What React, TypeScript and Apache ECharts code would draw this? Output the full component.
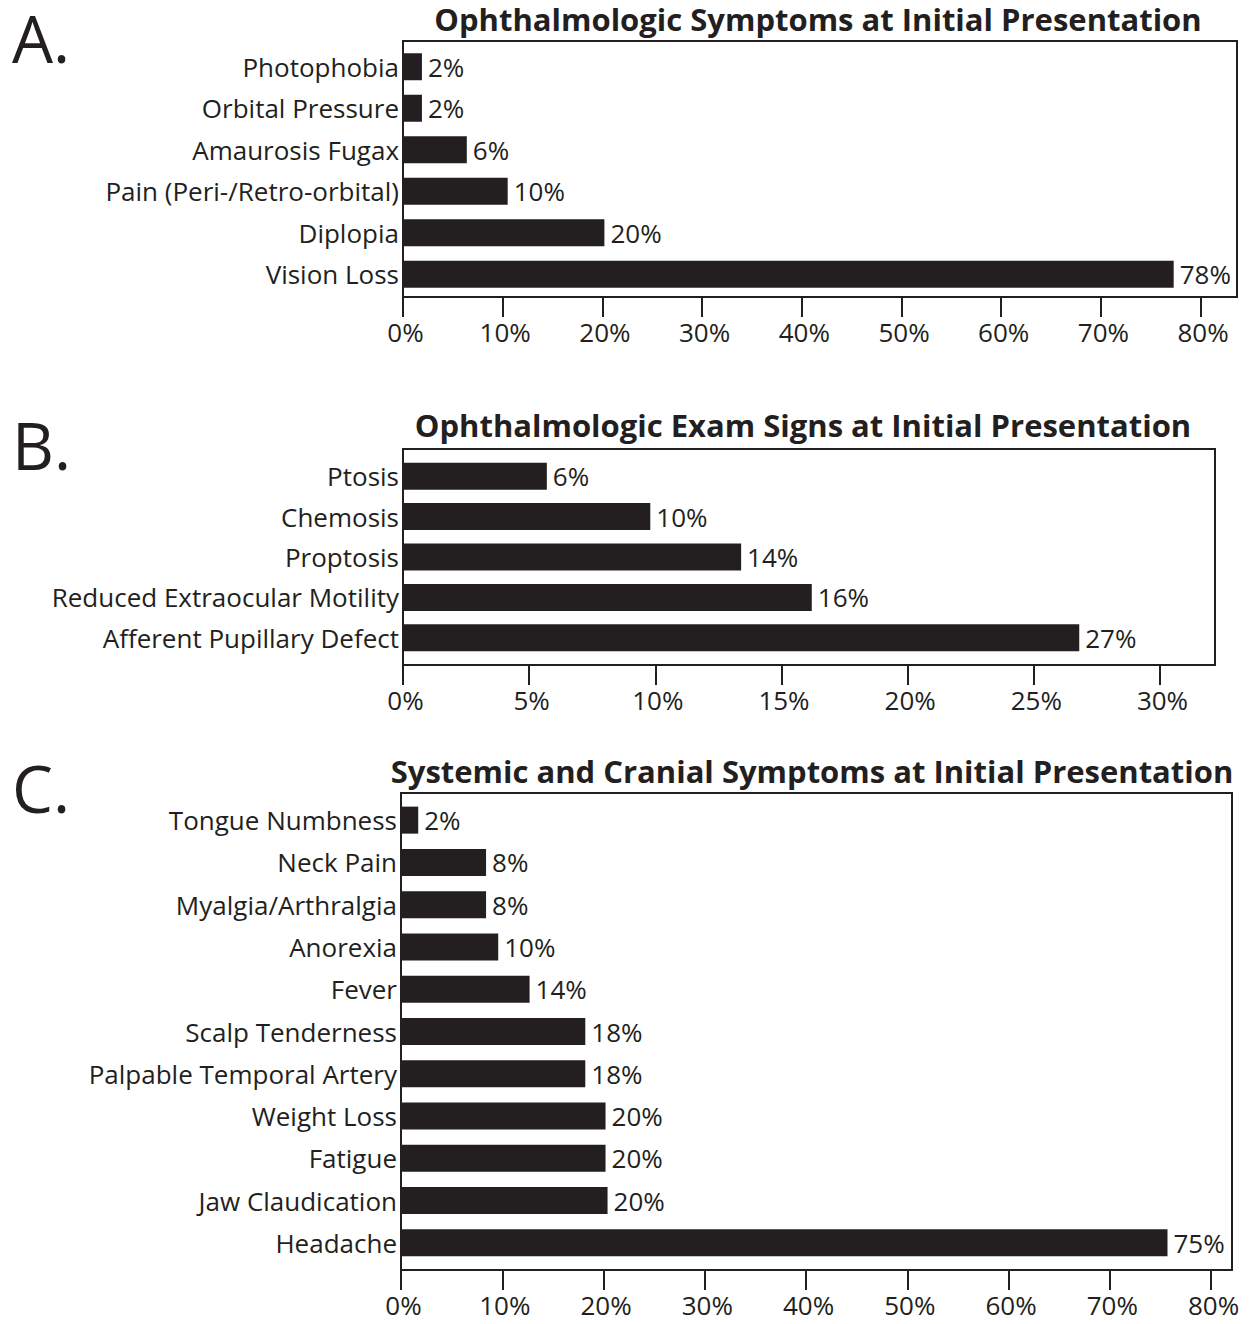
import React, { useEffect, useRef } from "react";
import * as echarts from "echarts";

const catsA = ["Photophobia", "Orbital Pressure", "Amaurosis Fugax", "Pain (Peri-/Retro-orbital)", "Diplopia", "Vision Loss"];
const valsA = [1.9, 1.9, 6.4, 10.5, 20.2, 77.3];
const labelsA = ["2%", "2%", "6%", "10%", "20%", "78%"];
const ticksA = [0, 10, 20, 30, 40, 50, 60, 70, 80];

const catsB = ["Ptosis", "Chemosis", "Proptosis", "Reduced Extraocular Motility", "Afferent Pupillary Defect"];
const valsB = [5.7, 9.8, 13.4, 16.2, 26.8];
const labelsB = ["6%", "10%", "14%", "16%", "27%"];
const ticksB = [0, 5, 10, 15, 20, 25, 30];

const catsC = ["Tongue Numbness", "Neck Pain", "Myalgia/Arthralgia", "Anorexia", "Fever", "Scalp Tenderness", "Palpable Temporal Artery", "Weight Loss", "Fatigue", "Jaw Claudication", "Headache"];
const valsC = [1.7, 8.4, 8.4, 9.6, 12.7, 18.2, 18.2, 20.2, 20.2, 20.4, 75.7];
const labelsC = ["2%", "8%", "8%", "10%", "14%", "18%", "18%", "20%", "20%", "20%", "75%"];
const ticksC = [0, 10, 20, 30, 40, 50, 60, 70, 80];

const INK = "#231f20";
const FONT = "'Open Sans', sans-serif";

const panels = [
  { letter: "A.", letterY: 38, title: "Ophthalmologic Symptoms at Initial Presentation", titleX: 818, titleY: 19,
    cats: catsA, vals: valsA, labels: labelsA, ticks: ticksA,
    box: { x: 403, y: 41, w: 834, h: 256 }, gridTop: 46, gridBottom: 295, max: 83.65 },
  { letter: "B.", letterY: 445, title: "Ophthalmologic Exam Signs at Initial Presentation", titleX: 803, titleY: 425,
    cats: catsB, vals: valsB, labels: labelsB, ticks: ticksB,
    box: { x: 403, y: 449, w: 812, h: 216 }, gridTop: 456, gridBottom: 658, max: 32.18 },
  { letter: "C.", letterY: 788, title: "Systemic and Cranial Symptoms at Initial Presentation", titleX: 812, titleY: 771,
    cats: catsC, vals: valsC, labels: labelsC, ticks: ticksC,
    box: { x: 401, y: 793, w: 831, h: 477 }, gridTop: 799, gridBottom: 1264, max: 82.07 },
];

export default function App() {
  const ref = useRef<HTMLDivElement>(null);
  useEffect(() => {
    if (!ref.current) return;
    const chart = echarts.init(ref.current, null, { renderer: "svg" });
    const grid: any[] = [];
    const xAxis: any[] = [];
    const yAxis: any[] = [];
    const series: any[] = [];
    const graphic: any[] = [];
    panels.forEach((p, i) => {
      grid.push({ left: p.box.x, top: p.gridTop, width: p.box.w, height: p.gridBottom - p.gridTop, containLabel: false });
      xAxis.push({
        type: "value", gridIndex: i, min: 0, max: p.max, position: "bottom",
        offset: p.box.y + p.box.h - p.gridBottom,
        axisLine: { show: false },
        splitLine: { show: false },
        axisTick: { show: true, length: 20, customValues: p.ticks, lineStyle: { color: INK, width: 2 } },
        axisLabel: { customValues: p.ticks, formatter: (v: number) => v + "%", fontSize: 26, fontFamily: FONT, color: INK, margin: 22, padding: [0, 0, 0, 5] },
      });
      yAxis.push({
        type: "category", gridIndex: i, data: p.cats, inverse: true,
        axisLine: { show: false }, axisTick: { show: false },
        axisLabel: { fontSize: 26, fontFamily: FONT, color: INK, margin: 4, padding: [0, 0, 6, 0] },
      });
      const labels = p.labels;
      series.push({
        type: "bar", xAxisIndex: i, yAxisIndex: i, data: p.vals, barWidth: 27,
        itemStyle: { color: INK },
        label: { show: true, position: "right", distance: 6, formatter: (q: any) => labels[q.dataIndex], fontSize: 26, fontFamily: FONT, color: INK },
      });
      graphic.push({ type: "rect", shape: { x: p.box.x, y: p.box.y, width: p.box.w, height: p.box.h }, style: { fill: "none", stroke: INK, lineWidth: 2 }, z: 10 });
      graphic.push({ type: "text", x: p.titleX, y: p.titleY, style: { text: p.title, font: `bold 31px ${FONT}`, fill: INK, textAlign: "center", textVerticalAlign: "middle" } });
      graphic.push({ type: "text", x: 12, y: p.letterY, style: { text: p.letter, font: `65px ${FONT}`, fill: INK, textAlign: "left", textVerticalAlign: "middle" } });
    });
    chart.setOption({ animation: false, backgroundColor: "#fff", grid, xAxis, yAxis, series, graphic });
    return () => chart.dispose();
  }, []);
  return <div ref={ref} style={{ position: "fixed", left: 0, top: 0, width: 1249, height: 1324 }} />;
}
